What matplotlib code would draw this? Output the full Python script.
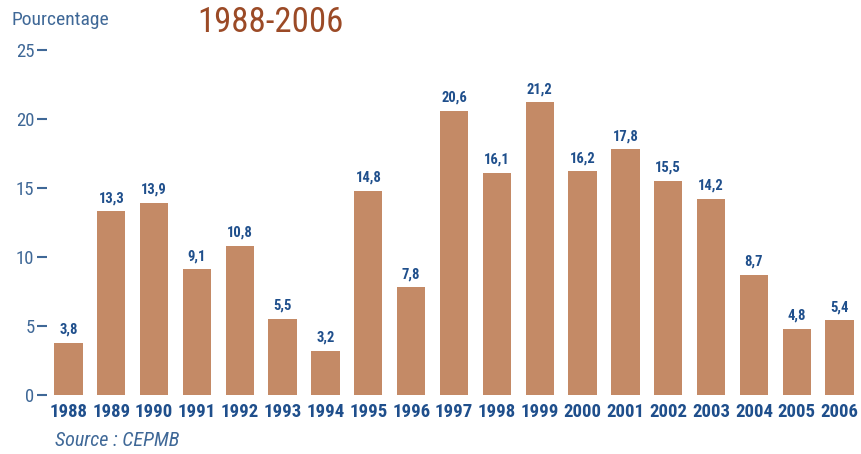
import matplotlib
matplotlib.use("Agg")
import matplotlib.pyplot as plt

years = ["1988", "1989", "1990", "1991", "1992", "1993", "1994", "1995", "1996", "1997",
         "1998", "1999", "2000", "2001", "2002", "2003", "2004", "2005", "2006"]
values = [3.8, 13.3, 13.9, 9.1, 10.8, 5.5, 3.2, 14.8, 7.8, 20.6,
          16.1, 21.2, 16.2, 17.8, 15.5, 14.2, 8.7, 4.8, 5.4]
yticks = [0, 5, 10, 15, 20, 25]

plt.rcParams['font.family'] = ['Roboto Condensed', 'DejaVu Sans']

bar_color = "#c48a66"
dark_blue = "#1f4f8c"
mid_blue = "#3f6897"

fig = plt.figure(figsize=(8.62, 4.54), dpi=100)
ax = fig.add_axes([47/862, 59/454, (861-47)/862, (395-50)/454])

x = list(range(len(years)))
ax.bar(x, values, width=0.66, color=bar_color)
for xi, v in zip(x, values):
    ax.text(xi, v + 0.45, f"{v:.1f}".replace(".", ","), ha="center", va="bottom",
            fontsize=10.5, fontweight="bold", color=dark_blue)

ax.set_xlim(-0.5, len(years) - 0.5)
ax.set_ylim(0, 25)
ax.set_yticks(yticks)
ax.set_yticklabels([str(t) for t in yticks], fontsize=13.5, color=mid_blue)
ax.set_xticks(x)
ax.set_xticklabels(years, fontsize=13.5, fontweight="bold", color=dark_blue)
ax.tick_params(axis="y", length=7, width=1.5, color=mid_blue, pad=2)
ax.tick_params(axis="x", length=0, pad=6)
for s in ax.spines.values():
    s.set_visible(False)

fig.text(12/862, 1 - 20/454, "Pourcentage", fontsize=14, color=mid_blue, va="center", ha="left")
fig.text(197/862, 1 - 22/454, "1988-2006", fontsize=25, color="#9b4a26", va="center", ha="left")
fig.text(55/862, 1 - 440/454, "Source : CEPMB", fontsize=14.5, style="italic", color=mid_blue,
         va="center", ha="left")

fig.savefig("out.png", dpi=100)
